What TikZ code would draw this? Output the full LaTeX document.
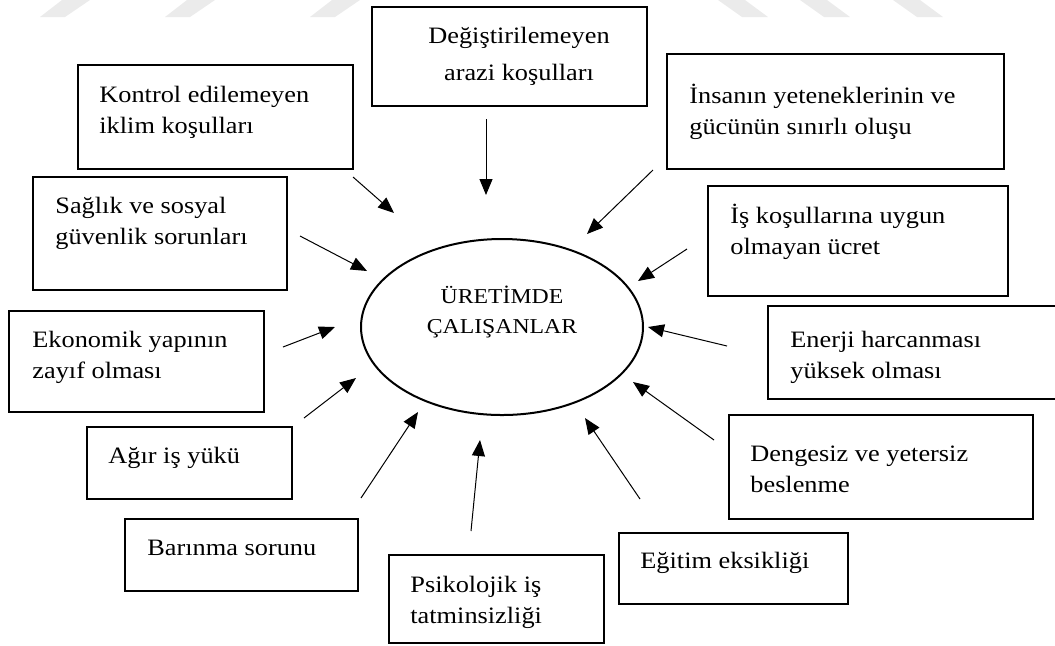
\documentclass[tikz,border=0pt]{standalone}
\usepackage{fontspec}
\setmainfont{Liberation Serif}[FakeStretch=1.12]
\usepackage{tikz}
\usetikzlibrary{arrows.meta}
\usetikzlibrary{shapes.geometric}
\usetikzlibrary{fit}
\tikzset{
	kutu/.style={draw,line width=1.2pt,inner sep=0pt},
	yazi/.style={inner sep=0pt,anchor=north west,align=left,font=\fontsize{11.75}{15.5}\selectfont},
	ok/.style={line width=0.5pt,-{Triangle[length=8pt,width=6.5pt]}},
	filigran/.style={fill=black!8,draw=none}
}

\begin{document}
\begin{tikzpicture}[x=0.5pt,y=-0.5pt]
					\useasboundingbox (0,0) rectangle (1055,645);
					\fill[filigran] (40,17)--(65,17)--(90,0)--(62,0)--cycle;
					\fill[filigran] (165,17)--(190,17)--(215,0)--(187,0)--cycle;
					\fill[filigran] (310,17)--(335,17)--(360,0)--(332,0)--cycle;
					\fill[filigran] (718,0)--(745,0)--(768,17)--(742,17)--cycle;
					\fill[filigran] (800,0)--(827,0)--(850,17)--(824,17)--cycle;
					\fill[filigran] (893,0)--(920,0)--(943,17)--(917,17)--cycle;
					\node[kutu,fill=white,fit={(372,7) (647,106)}] (arazi) {};
					\node[kutu,fit={(78,65) (353,169)}] (kontrol) {};
					\node[kutu,fit={(667,54) (1004,169)}] (insan) {};
					\node[kutu,fit={(33,177) (287,290)}] (saglik) {};
					\node[kutu,fit={(708,186) (1008,296)}] (ucret) {};
					\node[kutu,fit={(9,311) (264,412)}] (ekonomi) {};
					\node[kutu,fit={(768,306) (1075,399)}] (enerji) {};
					\node[kutu,fit={(87,427) (292,499)}] (agir) {};
					\node[kutu,fit={(729,415) (1033,519)}] (denge) {};
					\node[kutu,fit={(125,519) (358,591)}] (barinma) {};
					\node[kutu,fit={(619,533) (848,604)}] (egitim) {};
					\node[kutu,fit={(389,555) (604,643)}] (psiko) {};
					\node[draw,ellipse,line width=1pt,inner sep=0pt,minimum width=141pt,minimum height=88pt] (merkez) at (502,327) {};
					\node[yazi,anchor=north,align=center,font=\fontsize{11.75}{18.5}\selectfont] (araziyazi) at (519,17.1) {\strut Değiştirilemeyen\\arazi koşulları};
					\node[yazi] (kontrolyazi) at (99,80.3) {\strut Kontrol edilemeyen\\iklim koşulları};
					\node[yazi] (insanyazi) at (689,81.3) {\strut İnsanın yeteneklerinin ve\\gücünün sınırlı oluşu};
					\node[yazi] (saglikyazi) at (55,191.3) {\strut Sağlık ve sosyal\\güvenlik sorunları};
					\node[yazi] (ucretyazi) at (730,201.3) {\strut İş koşullarına uygun\\olmayan ücret};
					\node[yazi] (ekonomiyazi) at (32,325.3) {\strut Ekonomik yapının\\zayıf olması};
					\node[yazi] (enerjiyazi) at (790,325.3) {\strut Enerji harcanması\\yüksek olması};
					\node[yazi] (agiryazi) at (108,441.3) {\strut Ağır iş yükü};
					\node[yazi] (dengeyazi) at (750,439.3) {\strut Dengesiz ve yetersiz\\beslenme};
					\node[yazi] (barinmayazi) at (147,533.3) {\strut Barınma sorunu};
					\node[yazi] (egitimyazi) at (640,546.3) {\strut Eğitim eksikliği};
					\node[yazi] (psikoyazi) at (410,570.3) {\strut Psikolojik iş\\tatminsizliği};
					\node[yazi,anchor=north,align=center,font=\fontsize{10.6}{15}\selectfont] (merkezyazi) at (502,282) {\strut ÜRETİMDE\\ÇALIŞANLAR};
					\coordinate (a1) at (486,119);
					\coordinate (a2) at (486,195);
					\coordinate (k1) at (353,177);
					\coordinate (k2) at (394,213);
					\coordinate (i1) at (653,170);
					\coordinate (i2) at (587,234);
					\coordinate (s1) at (300,236);
					\coordinate (s2) at (367,271);
					\coordinate (u1) at (687,249);
					\coordinate (u2) at (638,281);
					\coordinate (e1) at (283,347);
					\coordinate (e2) at (335,327);
					\coordinate (h1) at (727,346);
					\coordinate (h2) at (648,327);
					\coordinate (y1) at (304,418);
					\coordinate (y2) at (356,378);
					\coordinate (d1) at (714,440);
					\coordinate (d2) at (633,382);
					\coordinate (b1) at (361,498);
					\coordinate (b2) at (418,412);
					\coordinate (g1) at (640,499);
					\coordinate (g2) at (585,418);
					\coordinate (p1) at (471,531);
					\coordinate (p2) at (480,440);
					\draw[ok] (a1)--(a2);
					\draw[ok] (k1)--(k2);
					\draw[ok] (i1)--(i2);
					\draw[ok] (s1)--(s2);
					\draw[ok] (u1)--(u2);
					\draw[ok] (e1)--(e2);
					\draw[ok] (h1)--(h2);
					\draw[ok] (y1)--(y2);
					\draw[ok] (d1)--(d2);
					\draw[ok] (b1)--(b2);
					\draw[ok] (g1)--(g2);
					\draw[ok] (p1)--(p2);
				\end{tikzpicture}
\end{document}
